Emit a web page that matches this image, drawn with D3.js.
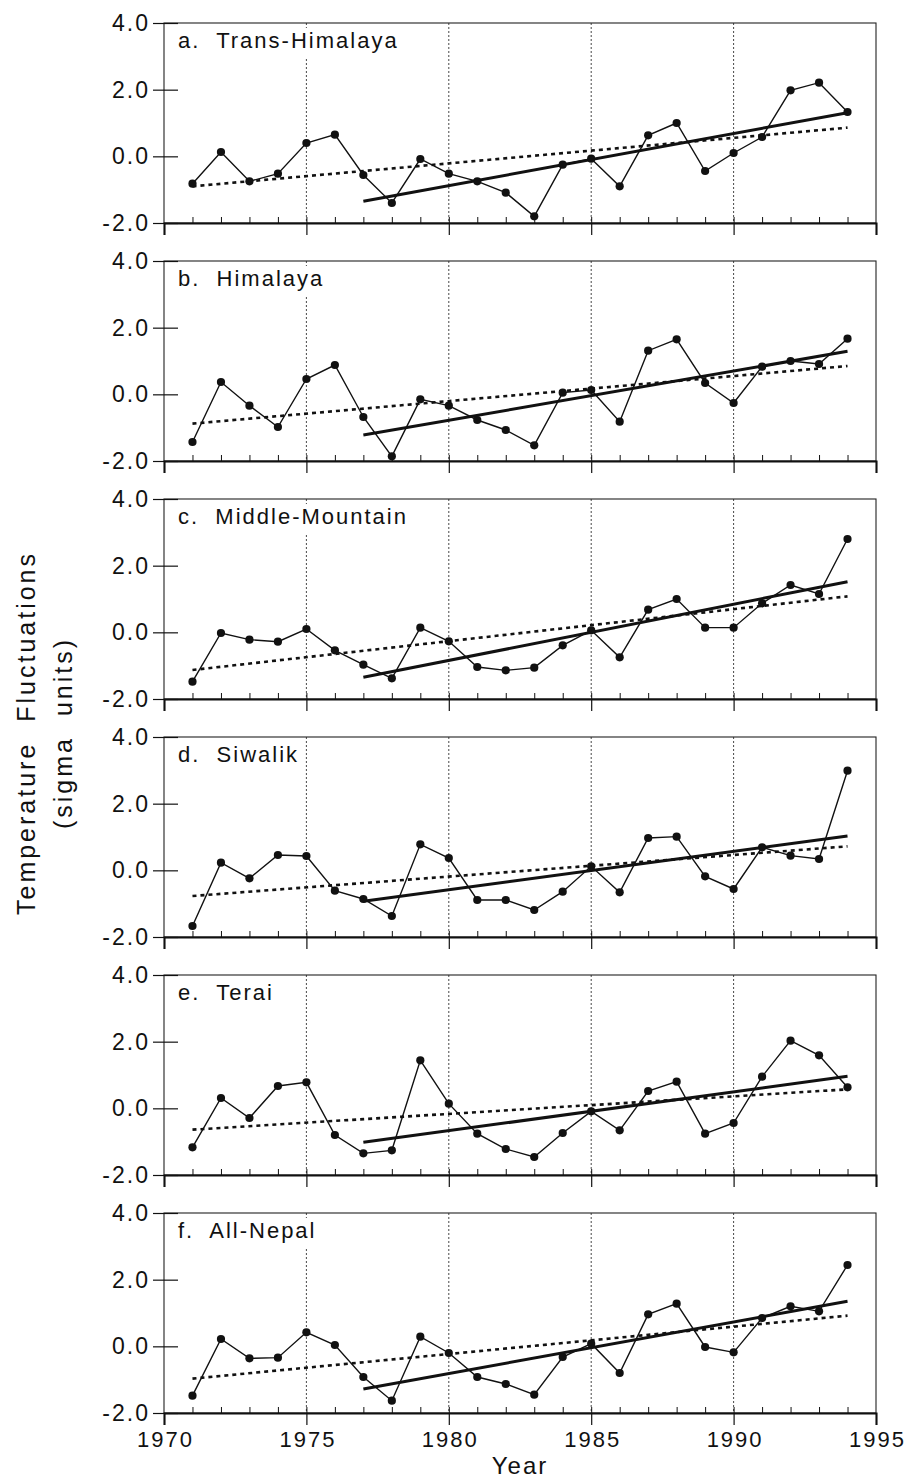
<!DOCTYPE html>
<html>
<head>
<meta charset="utf-8">
<script src="https://cdn.jsdelivr.net/npm/d3@7/dist/d3.min.js"></script>
<style>
body { margin: 0; background: #fff; }
text { font-family: 'Liberation Sans', Arial, sans-serif; fill: #111; white-space: pre; }
</style>
</head>
<body>
<svg width="908" height="1481"></svg>
<script>
// Years of the annual series
var years = [1971, 1972, 1973, 1974, 1975, 1976, 1977, 1978, 1979, 1980, 1981, 1982,
             1983, 1984, 1985, 1986, 1987, 1988, 1989, 1990, 1991, 1992, 1993, 1994];

// Temperature anomalies (sigma units)
var transHimalaya = [-0.82, 0.13, -0.75, -0.52, 0.40, 0.65, -0.56, -1.40, -0.08, -0.52, -0.75, -1.09,
                     -1.80, -0.25, -0.07, -0.90, 0.63, 1.00, -0.44, 0.10, 0.58, 1.98, 2.21, 1.33];
var himalaya = [-1.43, 0.37, -0.34, -0.98, 0.46, 0.88, -0.68, -1.86, -0.15, -0.34, -0.77, -1.07,
                -1.53, 0.05, 0.13, -0.82, 1.31, 1.65, 0.34, -0.26, 0.83, 1.00, 0.91, 1.67];
var middleMountain = [-1.48, -0.02, -0.22, -0.28, 0.10, -0.54, -0.97, -1.38, 0.14, -0.27, -1.04, -1.14,
                      -1.06, -0.39, 0.06, -0.75, 0.68, 1.00, 0.14, 0.14, 0.87, 1.42, 1.15, 2.80];
var siwalik = [-1.67, 0.23, -0.24, 0.46, 0.43, -0.61, -0.86, -1.37, 0.78, 0.37, -0.89, -0.89,
               -1.19, -0.64, 0.12, -0.66, 0.97, 1.01, -0.18, -0.56, 0.69, 0.44, 0.34, 2.99];
var terai = [-1.17, 0.31, -0.29, 0.67, 0.78, -0.80, -1.35, -1.26, 1.44, 0.14, -0.76, -1.22,
             -1.46, -0.74, -0.09, -0.66, 0.52, 0.80, -0.76, -0.44, 0.95, 2.03, 1.59, 0.63];
var allNepal = [-1.48, 0.22, -0.36, -0.34, 0.42, 0.04, -0.92, -1.63, 0.29, -0.20, -0.92, -1.13,
                -1.45, -0.32, 0.08, -0.80, 0.96, 1.28, -0.02, -0.18, 0.85, 1.20, 1.05, 2.44];

var panelLabels = ['a.  Trans-Himalaya', 'b.  Himalaya', 'c.  Middle-Mountain',
                   'd.  Siwalik', 'e.  Terai', 'f.  All-Nepal'];

// Trend lines: dotted one over the whole period, solid one from 1977
var longTrendYears = [1971, 1994];
var shortTrendYears = [1977, 1994];
var longTrend = [[-0.90, 0.86], [-0.88, 0.85], [-1.13, 1.08], [-0.77, 0.72], [-0.64, 0.57], [-0.97, 0.92]];
var shortTrend = [[-1.35, 1.31], [-1.22, 1.29], [-1.35, 1.52], [-0.93, 1.03], [-1.02, 0.96], [-1.28, 1.35]];

// Axis ticks
var yTicks = [-2, 0, 2, 4];
var xTicks = [1970, 1975, 1980, 1985, 1990, 1995];
var gridYears = [1975, 1980, 1985, 1990];

var series = [transHimalaya, himalaya, middleMountain, siwalik, terai, allNepal];

var svg = d3.select('svg');

// Layout
var padding = {t: 23, l: 164, r: 32};
var plotRight = 908 - padding.r;
var panelHeight = 200;
var panelStep = 238;

var x = d3.scaleLinear().domain([1970, 1995]).range([padding.l, plotRight]);
var y = d3.scaleLinear().domain([-2, 4]).range([panelHeight, 0]);

var dataLine = d3.line()
    .x(function(d) { return x(d.year); })
    .y(function(d) { return y(d.value); });

series.forEach(function(values, i) {
    var g = svg.append('g')
        .attr('transform', 'translate(0,' + (padding.t + i * panelStep) + ')');

    // dotted vertical grid lines
    g.selectAll('.grid').data(gridYears).enter().append('line')
        .attr('class', 'grid')
        .attr('x1', function(d) { return x(d); })
        .attr('x2', function(d) { return x(d); })
        .attr('y1', 0)
        .attr('y2', panelHeight)
        .attr('stroke', '#333')
        .attr('stroke-width', 0.9)
        .attr('stroke-dasharray', '2,2');

    // panel frame
    g.append('rect')
        .attr('x', padding.l)
        .attr('y', 0)
        .attr('width', plotRight - padding.l)
        .attr('height', panelHeight)
        .attr('fill', 'none')
        .attr('stroke', '#222')
        .attr('stroke-width', 1.1);

    // left axis, ticks crossing the frame
    var yAxis = d3.axisLeft(y).tickValues(yTicks)
        .tickSize(25).tickPadding(3)
        .tickFormat(function(d) { return d.toFixed(1); });
    var ya = g.append('g')
        .attr('transform', 'translate(' + (padding.l + 14) + ',0)')
        .call(yAxis);
    ya.select('.domain').remove();
    ya.selectAll('line').attr('stroke', '#111').attr('stroke-width', 1.2);
    ya.selectAll('text')
        .style('font-size', '23px')
        .style('letter-spacing', '2px')
        .style('font-family', "'Liberation Sans', Arial, sans-serif")
        .attr('fill', '#111');

    // minor year ticks pointing up
    var minorAxis = d3.axisTop(x).tickValues(years).tickSize(6).tickFormat('');
    var mi = g.append('g')
        .attr('transform', 'translate(0,' + panelHeight + ')')
        .call(minorAxis);
    mi.select('.domain').remove();
    mi.selectAll('line').attr('stroke', '#111');

    // major year ticks below, labels only on the last panel
    var xAxis = d3.axisBottom(x).tickValues(xTicks).tickSize(12).tickPadding(6)
        .tickFormat(i === series.length - 1 ? d3.format('d') : '');
    var xa = g.append('g')
        .attr('transform', 'translate(0,' + panelHeight + ')')
        .call(xAxis);
    xa.select('.domain').attr('stroke', '#111').attr('stroke-width', 2);
    xa.selectAll('line').attr('stroke', '#111').attr('stroke-width', 1.2);
    xa.selectAll('text')
        .attr('dx', '1')
        .style('font-size', '22px')
        .style('letter-spacing', '2px')
        .style('font-family', "'Liberation Sans', Arial, sans-serif")
        .attr('fill', '#111');

    // panel label with a white backing so grid lines stop under it
    var label = g.append('text')
        .attr('x', padding.l + 14)
        .attr('y', 25)
        .style('font-size', '22px')
        .style('letter-spacing', '2px')
        .text(panelLabels[i]);
    var bb = label.node().getBBox();
    g.insert('rect', function() { return label.node(); })
        .attr('x', bb.x - 2)
        .attr('y', bb.y)
        .attr('width', bb.width + 4)
        .attr('height', bb.height + 4)
        .attr('fill', '#fff');

    // dotted long-term trend
    g.append('line')
        .attr('x1', x(longTrendYears[0]))
        .attr('y1', y(longTrend[i][0]))
        .attr('x2', x(longTrendYears[1]))
        .attr('y2', y(longTrend[i][1]))
        .attr('stroke', '#111')
        .attr('stroke-width', 2.6)
        .attr('stroke-dasharray', '4,4');

    // solid trend since 1977
    g.append('line')
        .attr('x1', x(shortTrendYears[0]))
        .attr('y1', y(shortTrend[i][0]))
        .attr('x2', x(shortTrendYears[1]))
        .attr('y2', y(shortTrend[i][1]))
        .attr('stroke', '#111')
        .attr('stroke-width', 3);

    var points = years.map(function(yr, j) { return {year: yr, value: values[j]}; });

    g.append('path')
        .datum(points)
        .attr('d', dataLine)
        .attr('fill', 'none')
        .attr('stroke', '#111')
        .attr('stroke-width', 1.4);

    g.selectAll('.dot').data(points).enter().append('circle')
        .attr('class', 'dot')
        .attr('cx', function(d) { return x(d.year); })
        .attr('cy', function(d) { return y(d.value); })
        .attr('r', 4.1)
        .attr('fill', '#111');
});

// Axis titles
svg.append('text')
    .attr('x', (padding.l + plotRight) / 2)
    .attr('y', 1474)
    .attr('text-anchor', 'middle')
    .style('font-size', '24px')
    .style('letter-spacing', '2px')
    .text('Year');

var titleY = 733;
svg.append('text')
    .attr('transform', 'translate(35,' + titleY + ') rotate(-90)')
    .attr('text-anchor', 'middle')
    .style('font-size', '25px')
    .style('letter-spacing', '3px')
    .text('Temperature  Fluctuations');
svg.append('text')
    .attr('transform', 'translate(72,' + titleY + ') rotate(-90)')
    .attr('text-anchor', 'middle')
    .style('font-size', '25px')
    .style('letter-spacing', '3px')
    .text('(sigma  units)');
</script>
</body>
</html>
